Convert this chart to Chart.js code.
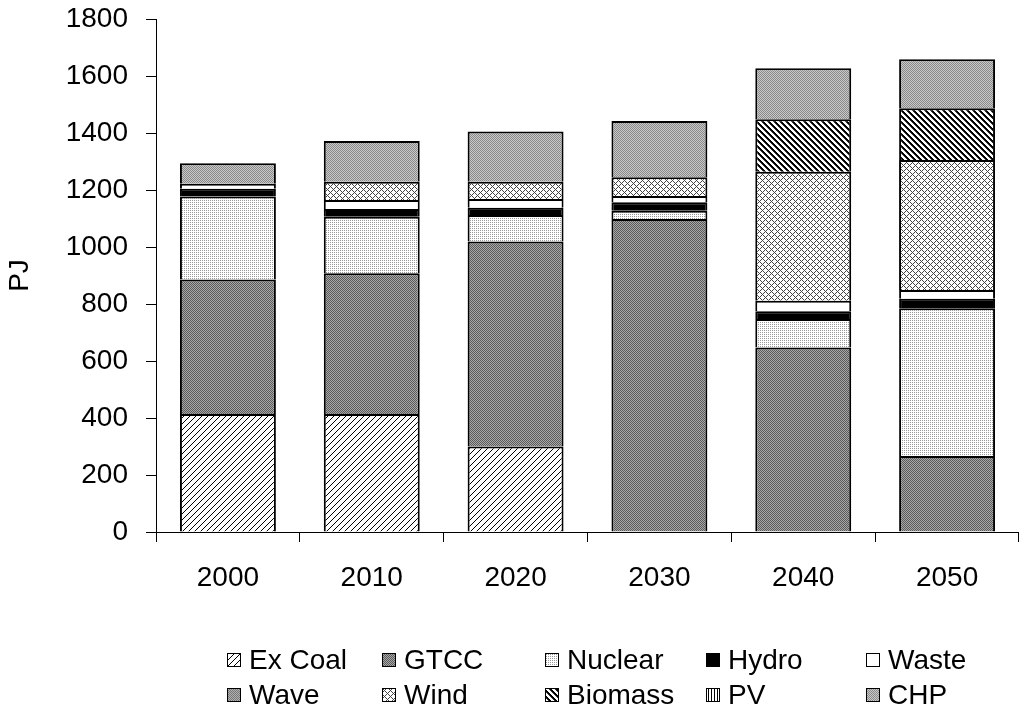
<!DOCTYPE html>
<html>
<head>
<meta charset="utf-8">
<title>PJ</title>
<script src="https://cdn.jsdelivr.net/npm/chart.js@4.4.1/dist/chart.umd.min.js"></script>
<style>
    html, body { margin: 0; padding: 0; background: #fff; }
    canvas { display: block; }
</style>
</head>
<body>
<canvas id="diagram" width="1019" height="720"></canvas>
<script>
"use strict"

/*-----------------------------Data-------------------------------------------*/

let years = ["2000", "2010", "2020", "2030", "2040", "2050"]; // kategorier

let exCoal = [414, 414, 300, 0, 0, 0];
let gtcc = [472, 494, 719, 1098, 647, 267];
let nuclear = [291, 198, 93, 29, 100, 518];
let hydro = [27, 27, 26, 30, 28, 33];
let waste = [18, 32, 30, 22, 36, 31];
let wave = [0, 0, 0, 0, 0, 0];
let wind = [0, 64, 61, 66, 453, 456];
let biomass = [0, 0, 0, 0, 184, 182];
let pv = [0, 0, 0, 0, 0, 0];
let chp = [72, 143, 176, 197, 179, 172];

let yTicks = [0, 200, 400, 600, 800, 1000, 1200, 1400, 1600, 1800];
let yTitle = "PJ";

/*-----------------------------Mönster-------------------------------------------*/

// små rutor som upprepas som fyllning
function pattern(size, draw) {
    let c = document.createElement("canvas");
    c.width = size;
    c.height = size;
    let g = c.getContext("2d");
    g.fillStyle = "#fff";
    g.fillRect(0, 0, size, size);
    draw(g, size);
    return g.createPattern(c, "repeat");
}

function px(g, x, y, color) {
    g.fillStyle = color;
    g.fillRect(x, y, 1, 1);
}

let fills = {
    exCoal: pattern(6, (g, s) => { for (let x = 0; x < s; x++) px(g, x, s - 1 - x, "#000"); }),
    gtcc: pattern(2, g => { px(g, 0, 0, "#5a5a5a"); px(g, 1, 1, "#5a5a5a"); px(g, 1, 0, "#a8a8a8"); px(g, 0, 1, "#a8a8a8"); }),
    nuclear: pattern(2, g => { px(g, 0, 0, "#999"); }),
    hydro: "#000",
    waste: "#fff",
    wave: pattern(2, g => { px(g, 0, 0, "#777"); px(g, 1, 1, "#777"); px(g, 1, 0, "#b0b0b0"); px(g, 0, 1, "#b0b0b0"); }),
    wind: pattern(6, (g, s) => {
        for (let x = 0; x < s; x++) { px(g, x, x, "#444"); px(g, x, (s - x) % s, "#444"); }
    }),
    biomass: pattern(6, (g, s) => {
        for (let x = 0; x < s; x++) { px(g, x, x, "#000"); px(g, x, (x + 1) % s, "#000"); px(g, x, (x + 2) % s, "#333"); }
    }),
    pv: pattern(3, (g, s) => { for (let y = 0; y < s; y++) px(g, 0, y, "#000"); }),
    chp: pattern(2, g => { px(g, 0, 0, "#8a8a8a"); px(g, 1, 1, "#8a8a8a"); px(g, 1, 0, "#c8c8c8"); px(g, 0, 1, "#c8c8c8"); })
};

/*-----------------------------Legend-------------------------------------------*/

let legendCols = [227, 382, 545, 706, 866];
let legendRows = [660, 695];

const gridLegend = {
    id: "gridLegend",
    afterDraw(chart) {
        let ctx = chart.ctx;
        ctx.save();
        ctx.font = "28px 'Liberation Sans', Arial, sans-serif";
        ctx.textBaseline = "middle";
        chart.data.datasets.forEach((ds, i) => {
            let x = legendCols[i % 5];
            let y = legendRows[Math.floor(i / 5)];
            ctx.fillStyle = ds.backgroundColor;
            ctx.fillRect(x, y - 7, 14, 14);
            ctx.strokeStyle = "#000";
            ctx.lineWidth = 1;
            ctx.strokeRect(x + 0.5, y - 6.5, 13, 13);
            ctx.fillStyle = "#000";
            ctx.fillText(ds.label, x + 22, y + 1);
        });
        ctx.restore();
    }
};

/*-----------------------------Diagram-------------------------------------------*/

Chart.defaults.font.family = "'Liberation Sans', Arial, sans-serif";
Chart.defaults.color = "#000";

function set(label, data, fill) {
    return {
        label: label,
        data: data,
        backgroundColor: fill,
        borderColor: "#000",
        borderWidth: 2,
        borderSkipped: "start",
        categoryPercentage: 0.667,
        barPercentage: 1
    };
}

new Chart(document.getElementById("diagram"), {
    type: "bar",
    data: {
        labels: years,
        datasets: [
            set("Ex Coal", exCoal, fills.exCoal),
            set("GTCC", gtcc, fills.gtcc),
            set("Nuclear", nuclear, fills.nuclear),
            set("Hydro", hydro, fills.hydro),
            set("Waste", waste, fills.waste),
            set("Wave", wave, fills.wave),
            set("Wind", wind, fills.wind),
            set("Biomass", biomass, fills.biomass),
            set("PV", pv, fills.pv),
            set("CHP", chp, fills.chp)
        ]
    },
    options: {
        responsive: false,
        animation: false,
        layout: { padding: { top: 19, right: 0, bottom: 0, left: 0 } },
        plugins: {
            legend: { display: false },
            tooltip: { enabled: false }
        },
        scales: {
            x: {
                stacked: true,
                afterFit: s => { s.height = 188; s.paddingLeft = 0; s.paddingRight = 0; },
                grid: { drawOnChartArea: false, color: "#000", tickLength: 10 },
                border: { color: "#000" },
                ticks: { font: { size: 28 }, padding: 19 }
            },
            y: {
                stacked: true,
                min: 0,
                max: 1800,
                afterFit: s => { s.width = 156; s.paddingTop = 0; s.paddingBottom = 0; },
                afterBuildTicks: s => { s.ticks = yTicks.map(v => ({ value: v })); },
                grid: { drawOnChartArea: false, color: "#000", tickLength: 10 },
                border: { color: "#000" },
                ticks: { font: { size: 28 }, padding: 18, callback: v => String(v) },
                title: { display: true, text: yTitle, font: { size: 28 }, padding: { top: 3, bottom: 0 } }
            }
        }
    },
    plugins: [gridLegend]
});
</script>
</body>
</html>
